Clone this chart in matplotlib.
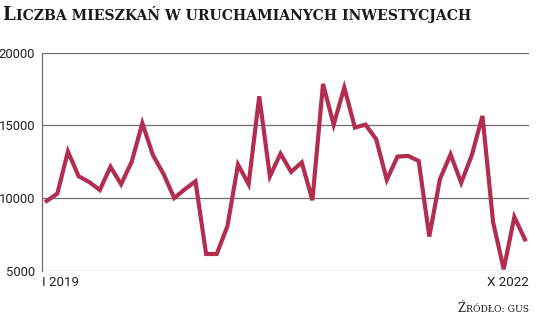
import matplotlib.pyplot as plt

# monthly values, I 2019 .. X 2022
values = [9800, 10300, 13200, 11500, 11100, 10550, 12150, 10950, 12500, 15150,
          12950, 11650, 10000, 10600, 11150, 6150, 6150, 8050, 12300, 10950,
          17000, 11500, 13050, 11800, 12450, 9850, 17850, 15050, 17600, 14850,
          15050, 14050, 11250, 12850, 12900, 12550, 7350, 11300, 13000, 11050,
          12950, 15650, 8350, 5100, 8700, 7150]
months = list(range(len(values)))
y_ticks = [5000, 10000, 15000, 20000]
x_labels = ['I 2019', 'X 2022']

LINE = '#b22d50'
GRID = '#6e6e6e'
TICKFONT = ['Roboto', 'DejaVu Sans']

fig = plt.figure(figsize=(5.36, 3.18), dpi=100)
ax = fig.add_axes([42 / 536, 1 - 270.7 / 318, 487 / 536, 218 / 318])

for t in y_ticks:
    ax.axhline(t, color=GRID, lw=0.9, zorder=1)
ax.plot(months, values, color=LINE, lw=3.0, solid_joinstyle='miter', zorder=3)

ax.set_xlim(-0.44, 45.38)
ax.set_ylim(5000, 20000)
for s in ['top', 'right', 'bottom']:
    ax.spines[s].set_visible(False)
ax.spines['left'].set_color(GRID)
ax.spines['left'].set_linewidth(0.9)
ax.set_xticks([])
ax.set_yticks(y_ticks)
ax.set_yticklabels([str(t) for t in y_ticks], fontsize=9.4,
                   family=TICKFONT, color='#222222')
ax.tick_params(axis='y', length=0, pad=5)
ax.patch.set_visible(False)

ax.text(0, -0.025, x_labels[0], transform=ax.transAxes, ha='left', va='top',
        fontsize=9.6, family=TICKFONT, color='#222222')
ax.text(1, -0.025, x_labels[1], transform=ax.transAxes, ha='right', va='top',
        fontsize=9.6, family=TICKFONT, color='#222222')

# title in fake small caps
fig.canvas.draw()
r = fig.canvas.get_renderer()
t1 = fig.text(2 / 536, 1 - 20 / 318, 'L', fontsize=13, weight='bold',
              family='DejaVu Serif', color='#1a1a1a', va='baseline')
bb = t1.get_window_extent(r)
fig.text(bb.x1 / 536 + 0.002, 1 - 20 / 318, 'ICZBA MIESZKAŃ W URUCHAMIANYCH INWESTYCJACH',
         fontsize=10.1, weight='bold', family='DejaVu Serif', color='#1a1a1a', va='baseline')

# source, small caps too
s2 = fig.text(529 / 536, 1 - 312 / 318, 'RÓDŁO: GUS', fontsize=6.7,
              family='DejaVu Serif', color='#1a1a1a', ha='right', va='baseline')
bb2 = s2.get_window_extent(r)
fig.text(bb2.x0 / 536 - 0.001, 1 - 312 / 318, 'Ź', fontsize=8.3,
         family='DejaVu Serif', color='#1a1a1a', ha='right', va='baseline')

fig.savefig('out.png', dpi=100)
